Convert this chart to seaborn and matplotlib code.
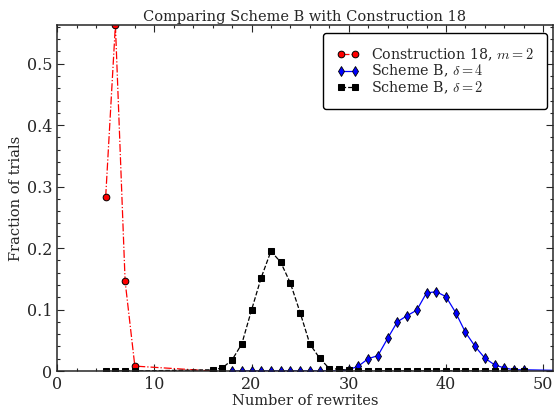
import numpy as np
import matplotlib
matplotlib.use("Agg")
import matplotlib.pyplot as plt
import seaborn as sns
from matplotlib.ticker import MultipleLocator, FormatStrFormatter

# Construction 18, m = 2
c18_x = [5, 6, 7, 8, 16]
c18_y = [0.283, 0.563, 0.146, 0.008, 0.0]

# Scheme B, delta = 4
sb4_x = [18, 19, 20, 21, 22, 23, 24, 25, 26, 27, 28, 29, 30, 31, 32, 33, 34, 35, 36,
         37, 38, 39, 40, 41, 42, 43, 44, 45, 46, 47, 48, 55]
sb4_y = [0, 0, 0, 0, 0, 0, 0, 0, 0, 0, 0, 0, 0.002, 0.008, 0.020, 0.025, 0.053, 0.080,
         0.090, 0.099, 0.127, 0.129, 0.121, 0.095, 0.063, 0.040, 0.021, 0.010, 0.005,
         0.002, 0.002, 0]

# Scheme B, delta = 2
sb2_x = [5, 6, 7, 8] + list(range(16, 49))
sb2_y = [0, 0, 0, 0, 0.002, 0.005, 0.018, 0.044, 0.099, 0.152, 0.195, 0.177, 0.143,
         0.095, 0.044, 0.021, 0.004, 0.003, 0.001] + [0] * 18

sns.set_style("ticks")
plt.rcParams["font.family"] = ["DejaVu Serif"]
plt.rcParams["mathtext.fontset"] = "cm"

fig = plt.figure(figsize=(5.54, 4.12), dpi=100)
ax = fig.add_axes([0.103, 0.0995, 0.895, 0.84])

sns.lineplot(x=c18_x, y=c18_y, ax=ax, color="r", linestyle="-.", linewidth=0.9,
             marker="o", markersize=4.8, markeredgecolor="k", markeredgewidth=0.7,
             sort=False, label=r"Construction 18, $m=2$")
sns.lineplot(x=sb4_x, y=sb4_y, ax=ax, color="b", linestyle="-", linewidth=0.9,
             marker="d", markersize=5.2, markeredgecolor="k", markeredgewidth=0.6,
             sort=False, label=r"Scheme B, $\delta=4$")
sns.lineplot(x=sb2_x, y=sb2_y, ax=ax, color="k", linestyle="--", linewidth=0.9,
             marker="s", markersize=4.8, markeredgecolor="k",
             sort=False, label=r"Scheme B, $\delta=2$")

ax.set_xlim(0, 51)
ax.set_ylim(0, max(c18_y))
ax.xaxis.set_major_locator(MultipleLocator(10))
ax.xaxis.set_minor_locator(MultipleLocator(2))
ax.yaxis.set_major_locator(MultipleLocator(0.1))
ax.yaxis.set_minor_locator(MultipleLocator(0.02))
ax.yaxis.set_major_formatter(FormatStrFormatter("%g"))
ax.tick_params(which="both", direction="in", top=True, right=True, labelsize=11.5)
ax.tick_params(which="major", length=5, width=0.8)
ax.tick_params(which="minor", length=2.5, width=0.8)
for s in ax.spines.values():
    s.set_linewidth(1.1)

ax.set_title("Comparing Scheme B with Construction 18", fontsize=10.5, pad=3)
ax.set_xlabel("Number of rewrites", fontsize=10.5, labelpad=1)
ax.set_ylabel("Fraction of trials", fontsize=10.5, labelpad=3)

leg = ax.legend(loc="upper right", fontsize=10.3, numpoints=2, handlelength=1.6,
                borderpad=0.95, labelspacing=0.0, handletextpad=0.8,
                borderaxespad=0, fancybox=True, framealpha=1, edgecolor="k",
                bbox_to_anchor=(0.988, 0.977))
leg.get_frame().set_linewidth(1.0)

fig.savefig("out.png", dpi=100)
